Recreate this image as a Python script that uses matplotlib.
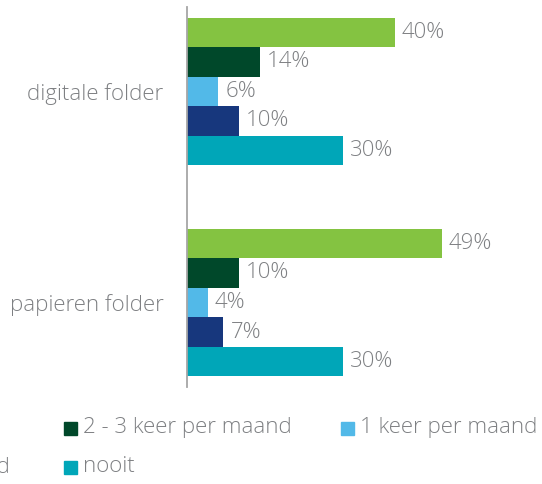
import numpy as np
import matplotlib
matplotlib.use("Agg")
import matplotlib.pyplot as plt
from matplotlib.patches import Rectangle

# data
categories = ["digitale folder", "papieren folder"]
series = ["wekelijks", "2 - 3 keer per maand", "1 keer per maand",
          "< 1 keer per maand", "nooit"]
colors = ["#84C341", "#00482A", "#52B9E8", "#17377D", "#00A6B8"]
values = [
    [40, 49],
    [14, 10],
    [6, 4],
    [10, 7],
    [30, 30],
]

W, H = 542, 484
grey = "#7E8083"
fs = 16
plt.rcParams["font.family"] = ["Open Sans", "DejaVu Sans"]

fig = plt.figure(figsize=(W / 100, H / 100), dpi=100)
ax = fig.add_axes([187 / W, 1 - 387 / H, 312 / W, 380 / H])

h = 0.14
y = np.arange(len(categories))
for i, (name, col) in enumerate(zip(series, colors)):
    ypos = y + (i - 2) * h
    bars = ax.barh(ypos, values[i], height=h, color=col, label=name)
    for b, v in zip(bars, values[i]):
        ax.annotate(f"{v}%", (b.get_width(), b.get_y() + b.get_height() / 2),
                    xytext=(7, 0), textcoords="offset pixels",
                    va="center", ha="left", fontsize=fs, color=grey,
                    fontweight="light")

ax.set_xlim(0, 60)
ax.set_ylim(1.4, -0.4)
ax.set_yticks(y)
ax.set_yticklabels(categories, fontsize=fs, color=grey, fontweight="light")
ax.tick_params(axis="y", length=0, pad=17)
ax.set_xticks([])
for s in ["top", "right", "bottom"]:
    ax.spines[s].set_visible(False)
ax.spines["left"].set_color("#A6A6A6")
ax.spines["left"].set_linewidth(1.3)

# legend, three columns, partly off the left edge like the original
col_x = [-205, 64, 341]
row_y = [428, 467]
order = [(0, 0), (1, 0), (2, 0), (0, 1), (1, 1)]
for (c, r), name, col in zip(order, series, colors):
    x0, y0 = col_x[c], row_y[r]
    fig.patches.append(Rectangle((x0 / W, 1 - (y0 + 6.5) / H), 13 / W, 13 / H,
                                 transform=fig.transFigure, color=col))
    fig.text((x0 + 19) / W, 1 - y0 / H, name, fontsize=fs, color=grey,
             va="center", ha="left", fontweight="light")

fig.savefig("out.png", dpi=100)
